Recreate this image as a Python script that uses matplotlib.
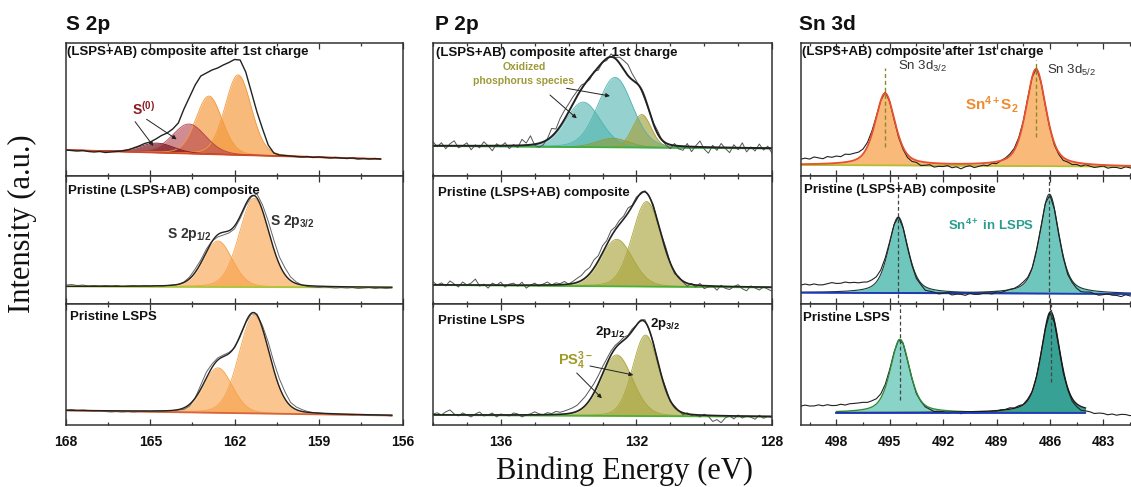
import numpy as np
import matplotlib
matplotlib.use("Agg")
import matplotlib.pyplot as plt
from matplotlib.ticker import MultipleLocator

plt.rcParams["font.family"] = ["Liberation Sans", "DejaVu Sans"]
plt.rcParams["mathtext.fontset"] = "custom"
plt.rcParams["mathtext.rm"] = "Liberation Sans"
plt.rcParams["mathtext.it"] = "Liberation Sans:italic"
plt.rcParams["mathtext.bf"] = "Liberation Sans:bold"

# ======================= S 2p =======================
s_start, s_step = 168.0, 0.2
s_eta = 0.15

s_top_raw = [26, 25.5, 25, 25.5, 24.5, 24, 24.5, 23.5, 24, 24.5, 25,
             26, 28, 30, 32.5, 34, 37, 40.5, 43, 47, 53,
             67, 79, 91, 100, 103, 106, 108, 111, 113.5, 116.5,
             116, 104, 84, 64, 47, 31, 23, 21, 20.5, 20,
             19.5, 19, 19.5, 18.5, 19, 18.5, 18, 18.5, 18, 17.5,
             18, 17, 17.5, 17, 17.5, 17]
s_top_center = [161.87, 162.91, 163.62, 164.76]
s_top_height = [80, 58, 29.5, 9.5]
s_top_fwhm = [1.1, 1.1, 1.4, 1.4]
s_top_base = [26, 17]

s_mid_raw = [19, 19.5, 18.5, 19, 18, 18.5, 18, 18.5, 18, 18.5, 17.5,
             18, 18.5, 18, 18.5, 18, 18.5, 18, 18.5, 19, 19.5,
             22, 27, 35, 44, 55, 63, 67, 69, 71, 75,
             85.5, 98, 107, 110, 99, 83, 64, 47, 36, 27,
             22, 19, 17.5, 17, 16.5, 17, 16.5, 16, 16.5, 16,
             16.5, 15.5, 16, 16.5, 15.5, 16, 15.5, 16]
s_mid_center = [161.30, 162.59]
s_mid_height = [88.7, 46]
s_mid_fwhm = [1.25, 1.2]
s_mid_base = [17.5, 16.5]

s_bot_raw = [15, 15.5, 14.5, 15, 14.5, 14, 14.5, 13.5, 13, 13.5, 13,
             13.5, 13, 13.5, 14, 13.5, 14, 14, 14.5, 14.5, 15,
             15.5, 19, 27, 40, 53, 61, 67, 70, 72.5, 77,
             88, 102, 111, 111, 99, 83, 63, 46, 33, 22.5,
             18, 15.5, 13.5, 12.5, 12, 11.5, 11, 11, 10.5, 10.5,
             10, 10.5, 10, 9.5, 10, 9.5, 9.5, 9]
s_bot_center = [161.30, 162.59]
s_bot_height = [98, 45]
s_bot_fwhm = [1.28, 1.2]
s_bot_base = [14.5, 9.5]

# ======================= P 2p =======================
p_start, p_step, p_count = 138.0, 0.125, 81
p_eta = 0.15

p_top_center = [133.57, 132.63, 132.70, 131.84]
p_top_height = [45, 70, 9, 33]
p_top_fwhm = [1.2, 1.2, 1.1, 0.65]
p_top_base = [30, 27.5]
p_top_resid = [4, -1, 3, -3, 2, 5, -2, 0, 3, -4, 1, -2, 4, 0, -5, 2, -1, 3, -3, 1,
               -2, 6, 2, 9, -1, -4, -3,
               1, 8, 3, 8, 9, 8,
               7, 5, 4, 0, -2, 1, -3, 0, -2, 3, 1, 6,
               9, 11, 6, 2, -1, -2, 0, 1,
               3, 0, -2, -4, 2, -3,
               -4, 3, -5, 1, 6, -2, -6, 2, -3, 4, -1, -5, 3, -2, 5, -4, 1, -3, 4, -2,
               2, -5]

p_mid_center = [131.70, 132.58]
p_mid_height = [85, 47]
p_mid_fwhm = [1.0, 1.1]
p_mid_base = [19, 16.5]
p_mid_resid = [3, 0, 2, -1, 4, 1, -2, 3, 0, 2, 6, -1, 1, -3, 2, 0, 3, -2, 1, 2,
               -1, 3, -3, 0, 2, -1, 1, 3, 0, 2,
               1, 3, 0, 2, 4, 5, 7, 6, 8, 5, 7, 4, 6, 3, 4,
               3, 5, 1, 2, -1, 1, 0, 2, -1, 1, 3, 0, -2, 1, -1, -3,
               1, -2, 2, -3, -1, 0, -4, 1, -2, -3, 0, 2, -2, -4, 1, -1, -3, 0, -2, -4]

p_bot_center = [131.73, 132.58]
p_bot_height = [81, 61]
p_bot_fwhm = [0.9, 1.1]
p_bot_base = [10, 8.3]
p_bot_resid = [1, 2, 0, 3, 5, 1, -1, 2, 0, -2, 1, 3, -1, 0, 2, -2, 1, 0, -1, 2,
               1, -2, 0, 1, 3, 1, 0, 2, 1, 3,
               2, 3, 4, 5, 6, 8, 9, 10, 9, 8, 7, 5, 4, 3, 2,
               3, 1, 2, 0, 1, 2, 0, 1, -1, 0, 2, -1, 1, 0, -2, 1,
               -1, 0, -2, 1, -1, -6, -4, -7, -2, 0, -3, 1, -2, 0, -1, -3, 1, -2, 0, -1]

# ======================= Sn 3d =======================
sn_start, sn_step, sn_count = 500.0, 0.25, 77
sn_eta = 0.5

sn_top_center = [495.26, 486.78]
sn_top_height = [72, 97]
sn_top_fwhm = [1.32, 1.32]
sn_top_base = [11, 9.3]
sn_top_resid = [5, 6, 5, 7, 6, 5, 7, 6, 7, 6, 8, 7, 7,
                6, 5, 4, 3, 1, 0,
                1, 0, -1, -2, -2, -3,
                -3, -2, -4, -3, -2, -4, -3, -3, -2, -4, -3, -5, -3, -2, -4, -3, -2, -3, -1, -2,
                0, 1, 2, 2,
                2, 1, 1, 0, 1, 0, -1, -1,
                -2, -2, -3, -2, -3, -2, -3, -1, -2, -3, -2, -1, -3, -2, -2, -3, -1, -2, -3, -2]

sn_mid_center = [494.52, 486.03]
sn_mid_height = [76, 99.5]
sn_mid_fwhm = [1.28, 1.28]
sn_mid_base = [11.3, 10]
sn_mid_resid = [7, 8, 7, 8, 7, 7, 8, 9, 8, 8, 9, 8, 8,
                7, 7, 6, 6, 5, 4,
                3, 1, 0, 0, -1, -2,
                -2, -3, -2, -4, -3, -3, -4, -3, -2, -4, -3, -3, -4, -2, -3, -3, -2, -2, -3, -1,
                -2, -1, 0, 0,
                1, 2, 1, 0, 1, 0, 0, -1,
                -1, -2, -2, -3, -2, -3, -4, -3, -2, -3, -4, -3, -2, -3, -3, -4, -2, -3, -3, -4]

sn_bot_center = [494.42, 485.96]
sn_bot_height = [73.4, 101]
sn_bot_fwhm = [1.28, 1.25]
sn_bot_base = [12.3, 12.3]
sn_bot_fit_range = [498.0, 484.0]
sn_bot_resid = [6, 7, 6, 6, 7, 6, 7, 6, 6, 7, 6, 7, 7,
                7, 7, 6, 6, 5, 4,
                3, 2, 1, 0, 0, -1,
                -1, -2, -1, -2, -2, -3, -2, -2, -3, -2, -2, -3, -2, -1, -2, -2, -1, -2, -1, -1,
                0, 0, 1, 0,
                1, 0, 1, 0, 0, 0, -1, -1,
                -2, -2, -3, -2, -3, -3, -4, -3, -3, -4, -3, -3, -4, -3, -4, -3, -3, -4, -3, -4]

col_titles = ["S 2p", "P 2p", "Sn 3d"]
row_titles = ["(LSPS+AB) composite after 1st charge",
              "Pristine (LSPS+AB) composite",
              "Pristine LSPS"]


# ----------------------- helpers -----------------------
def components(e, centers, heights, fwhms, eta):
    out = []
    for c, h, w in zip(centers, heights, fwhms):
        x = (e - c) / w
        out.append(h * ((1 - eta) * np.exp(-4 * np.log(2) * x ** 2)
                        + eta / (1 + 4 * x ** 2)))
    return out


def baseline(e, ends):
    return ends[0] + (ends[1] - ends[0]) * (e - e[0]) / (e[-1] - e[0])


def grid(start, step, n):
    return start - step * np.arange(n)


def fine(e):
    return np.linspace(e[0], e[-1], 900)


def fill_components(ax, ef, base, comps, colors, alphas, edges=None, elw=0.6):
    for i, (comp, col, a) in enumerate(zip(comps, colors, alphas)):
        ax.fill_between(ef, base, base + comp, color=col, alpha=a, lw=0)
        ec = col if edges is None else edges[i]
        ax.plot(ef, base + comp, color=ec, lw=elw)


def arrow(ax, tail, tip):
    ax.annotate("", xy=tip, xytext=tail,
                arrowprops=dict(arrowstyle="-|>", color="#222222", lw=0.7,
                                mutation_scale=6, shrinkA=0, shrinkB=0))


# ----------------------- figure layout -----------------------
W, H = 1131, 487
fig = plt.figure(figsize=(W / 100, H / 100), dpi=100)

col_left = [66, 433, 800.7]
col_right = [403, 772, 1141]
row_top = [43, 176, 304]
row_bot = [176, 304, 425]
xlims = [(168, 156), (138, 128), (500, 500 - (1141 - 800.7) / 17.8)]
major = [3, 4, 3]
minor = [1.5, 1, 1.5]

axes = []
for r in range(3):
    row = []
    for c in range(3):
        ax = fig.add_axes([col_left[c] / W, 1 - row_bot[r] / H,
                           (col_right[c] - col_left[c]) / W,
                           (row_bot[r] - row_top[r]) / H])
        ax.set_xlim(*xlims[c])
        ax.set_ylim(0, row_bot[r] - row_top[r])
        ax.set_yticks([])
        ax.xaxis.set_major_locator(MultipleLocator(major[c]))
        ax.xaxis.set_minor_locator(MultipleLocator(minor[c]))
        ax.tick_params(which="both", direction="in", top=True, bottom=True,
                       colors="#333333", width=0.9, labelbottom=(r == 2),
                       labelcolor="#111111", pad=7.5)
        ax.tick_params(which="major", length=4.5)
        ax.tick_params(which="minor", length=2.5)
        for lab in ax.get_xticklabels():
            lab.set_fontsize(10)
            lab.set_fontweight("bold")
        for sp in ax.spines.values():
            sp.set_color("#333333")
            sp.set_linewidth(1.1)
        row.append(ax)
    axes.append(row)

label_pos = [[(0.003, 0.929), (0.009, 0.925), (0.003, 0.935)],
             [(0.006, 0.883), (0.015, 0.867), (0.010, 0.890)],
             [(0.012, 0.895), (0.015, 0.860), (0.006, 0.884)]]
for r in range(3):
    for c in range(3):
        x, y = label_pos[r][c]
        axes[r][c].text(x, y, row_titles[r], transform=axes[r][c].transAxes,
                        fontsize=9.5, fontweight="bold", ha="left", va="center",
                        color="#111111", zorder=10)

# ======================= S 2p panels =======================
ax = axes[0][0]
e = grid(s_start, s_step, len(s_top_raw))
ef = fine(e)
bf = baseline(ef, s_top_base)
comps = components(ef, s_top_center, s_top_height, s_top_fwhm, s_eta)
fill_components(ax, ef, bf, comps,
                ["#f49a3c", "#f49a3c", "#b3404a", "#7a1620"],
                [0.68, 0.68, 0.6, 0.7])
ax.plot(ef, bf, color="#d24a28", lw=1.3)
ax.plot(e, s_top_raw, color="#222222", lw=1.0)
ax.text(165.66, 61, r"$\mathbf{S^{(0)}}$", color="#8b1a22", fontsize=10,
        ha="left", va="baseline")
arrow(ax, (165.54, 54.3), (164.89, 30))
arrow(ax, (165.13, 56.7), (164.06, 36.7))

for ax, raw, cen, hei, fw, base, bcol in [
        (axes[1][0], s_mid_raw, s_mid_center, s_mid_height, s_mid_fwhm, s_mid_base, "#a8c83a"),
        (axes[2][0], s_bot_raw, s_bot_center, s_bot_height, s_bot_fwhm, s_bot_base, "#d8643c")]:
    e = grid(s_start, s_step, len(raw))
    ef = fine(e)
    bf = baseline(ef, base)
    comps = components(ef, cen, hei, fw, s_eta)
    fill_components(ax, ef, bf, comps, ["#f7a24a", "#f7a24a"], [0.62, 0.62])
    ax.plot(ef, bf, color=bcol, lw=1.3)
    ax.plot(e, raw, color="#666666", lw=0.7)
    ax.plot(ef, bf + sum(comps), color="#222222", lw=1.0)

axes[1][0].text(164.41, 65.7, r"$\mathbf{S\ 2p_{1/2}}$", color="#333333",
                fontsize=10, ha="left", va="baseline")
axes[1][0].text(160.74, 79, r"$\mathbf{S\ 2p_{3/2}}$", color="#333333",
                fontsize=10, ha="left", va="baseline")

# ======================= P 2p panels =======================
e = grid(p_start, p_step, p_count)
ef = fine(e)

ax = axes[0][1]
bf = baseline(ef, p_top_base)
comps = components(ef, p_top_center, p_top_height, p_top_fwhm, p_eta)
raw = baseline(e, p_top_base) + sum(components(e, p_top_center, p_top_height,
                                               p_top_fwhm, p_eta)) + np.array(p_top_resid)
fill_components(ax, ef, bf, comps,
                ["#4fb4b0", "#4fb4b0", "#8f9a34", "#a3a03a"],
                [0.6, 0.6, 0.6, 0.65])
ax.plot(ef, bf, color="#3cb043", lw=1.3)
ax.plot(e, raw, color="#555555", lw=0.7)
ax.plot(ef, bf + sum(comps), color="#222222", lw=1.4)
ax.text(135.32, 102, "Oxidized\nphosphorus species", color="#9c9a38",
        fontsize=7.5, fontweight="bold", ha="center", va="center", linespacing=1.4)
arrow(ax, (134.55, 81), (133.76, 57.7))
arrow(ax, (134.06, 87.7), (132.78, 80))

for ax, resid, cen, hei, fw, base in [
        (axes[1][1], p_mid_resid, p_mid_center, p_mid_height, p_mid_fwhm, p_mid_base),
        (axes[2][1], p_bot_resid, p_bot_center, p_bot_height, p_bot_fwhm, p_bot_base)]:
    bf = baseline(ef, base)
    comps = components(ef, cen, hei, fw, p_eta)
    raw = baseline(e, base) + sum(components(e, cen, hei, fw, p_eta)) + np.array(resid)
    fill_components(ax, ef, bf, comps, ["#aaa63e", "#aaa63e"], [0.65, 0.65])
    ax.plot(ef, bf, color="#4cb034", lw=1.3)
    ax.plot(e, raw, color="#555555", lw=0.7)
    ax.plot(ef, bf + sum(comps), color="#222222", lw=1.2)

ax = axes[2][1]
ax.text(133.22, 90, r"$\mathbf{2p_{1/2}}$", color="#111111", fontsize=9.5,
        ha="left", va="baseline")
ax.text(131.6, 98.3, r"$\mathbf{2p_{3/2}}$", color="#111111", fontsize=9.5,
        ha="left", va="baseline")
ax.text(134.30, 60, r"$\mathbf{PS_4^{3-}}$", color="#a09a28", fontsize=10.5,
        ha="left", va="baseline")
arrow(ax, (133.76, 52), (133.02, 26.7))
arrow(ax, (133.37, 59), (132.09, 50))

# ======================= Sn 3d panels =======================
e = grid(sn_start, sn_step, sn_count)
ef = fine(e)

ax = axes[0][2]
bf = baseline(ef, sn_top_base)
comps = components(ef, sn_top_center, sn_top_height, sn_top_fwhm, sn_eta)
raw = baseline(e, sn_top_base) + sum(components(e, sn_top_center, sn_top_height,
                                                sn_top_fwhm, sn_eta)) + np.array(sn_top_resid)
fill_components(ax, ef, bf, comps, ["#f7a24c", "#f7a24c"], [0.75, 0.75])
ax.plot(ef, bf, color="#b0c030", lw=1.2)
ax.plot(e, raw, color="#222222", lw=0.8)
ax.plot(ef, bf + sum(comps), color="#e8502e", lw=1.3)
ax.plot([sn_top_center[0]] * 2, [29, 108], color="#8a8a2a", lw=1.0, ls=(0, (3, 2)))
ax.plot([sn_top_center[1]] * 2, [39, 116], color="#8a8a2a", lw=1.0, ls=(0, (3, 2)))
ax.text(494.52, 106, r"Sn 3d$_{3/2}$", color="#333333", fontsize=9.5,
        ha="left", va="baseline")
ax.text(486.18, 102, r"Sn 3d$_{5/2}$", color="#333333", fontsize=9.5,
        ha="left", va="baseline")
ax.text(490.77, 66, r"$\mathbf{Sn^{4+}S_2}$", color="#f08a2e", fontsize=11,
        ha="left", va="baseline")

ax = axes[1][2]
bf = baseline(ef, sn_mid_base)
comps = components(ef, sn_mid_center, sn_mid_height, sn_mid_fwhm, sn_eta)
raw = baseline(e, sn_mid_base) + sum(components(e, sn_mid_center, sn_mid_height,
                                                sn_mid_fwhm, sn_eta)) + np.array(sn_mid_resid)
fill_components(ax, ef, bf, comps, ["#3fb3a6", "#3fb3a6"], [0.75, 0.75],
                edges=["#1a3a36", "#1a3a36"], elw=0.8)
ax.plot(ef, bf, color="#2038c0", lw=1.3)
ax.plot(e, raw, color="#222222", lw=0.8)
for c in sn_mid_center:
    ax.axvline(c, color="#444444", lw=0.9, ls=(0, (3, 2)))
ax.text(491.71, 74, r"$\mathbf{Sn^{4+}}$ in LSPS", color="#2a9d8f",
        fontsize=9.5, fontweight="bold", ha="left", va="baseline")

ax = axes[2][2]
sel = (ef <= sn_bot_fit_range[0]) & (ef >= sn_bot_fit_range[1])
efs = ef[sel]
bf = np.full_like(efs, sn_bot_base[0])
comps = components(efs, sn_bot_center, sn_bot_height, sn_bot_fwhm, sn_eta)
raw = baseline(e, sn_bot_base) + sum(components(e, sn_bot_center, sn_bot_height,
                                                sn_bot_fwhm, sn_eta)) + np.array(sn_bot_resid)
ax.plot(e, raw, color="#222222", lw=0.8)
fill_components(ax, efs, bf, comps, ["#7ccfc2", "#22978a"], [0.9, 0.9],
                edges=["#2e8b3a", "#1a1a1a"], elw=1.0)
ax.plot(efs, bf, color="#2038c0", lw=1.3)
ax.plot([sn_bot_center[0]] * 2, [25, 121], color="#444444", lw=0.9, ls=(0, (3, 2)))
ax.plot([sn_bot_center[1]] * 2, [43, 121], color="#444444", lw=0.9, ls=(0, (3, 2)))

# ----------------------- titles and axis labels -----------------------
for x0, t in zip([66, 435, 799], col_titles):
    fig.text(x0 / W, 1 - 25 / H, t, fontsize=15, fontweight="bold",
             ha="left", va="center", color="#111111")

fig.text(22 / W, 1 - 224 / H, "Intensity (a.u.)", family="Liberation Serif",
         fontsize=22, rotation=90, ha="center", va="center", color="#111111")
fig.text(624 / W, 1 - 479.5 / H, "Binding Energy (eV)", family="Liberation Serif",
         fontsize=22, ha="center", va="baseline", color="#111111")

fig.savefig("out.png", dpi=100)
